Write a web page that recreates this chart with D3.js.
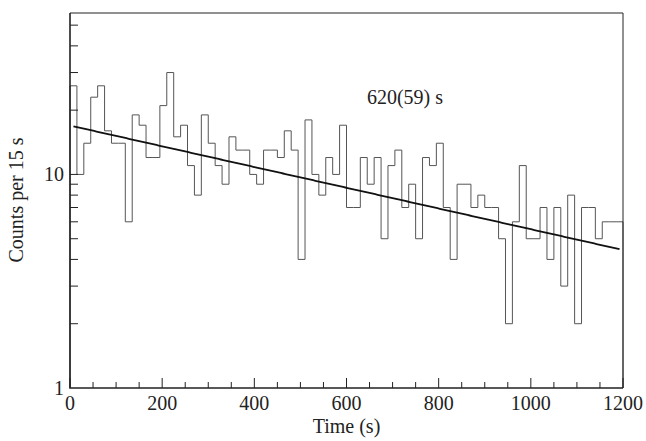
<!DOCTYPE html>
<html><head><meta charset="utf-8">
<script src="https://cdn.jsdelivr.net/npm/d3@7"></script>
<style>body{margin:0;background:#fff}</style></head>
<body><svg id="c" width="646" height="441"></svg>
<script>
const binWidth = 15;
const counts = [26,10,14,23,26,16,14,14,6,19,17,12,12,21,30,15,17,11,8,19,
14,11,9,15,13,13,10,9,13,13,12,16,13,4,18,10,8,12,10,17,
7,7,12,9,12,5,11,13,7,9,5,12,11,14,7,4,9,9,7,8,
7,7,5,2,6,11,5,5,7,4,7,3,8,2,7,7,5,6,6,6];
const halfLife = 620, A0 = 16.94;
const xTicks = [0,200,400,600,800,1000,1200];
const yTicks = [1,10];

const svg = d3.select("#c");
const L=70, R=623, T=13, B=388;
const x = d3.scaleLinear().domain([0,1200]).range([L,R]);
const y = d3.scaleLog().domain([1,57]).range([B,T]);
const font = "'Liberation Serif', 'Times New Roman', serif";
const fs = 20;

const pts = [[0,1]];
counts.forEach((c,i)=>{pts.push([i*binWidth,c]);pts.push([(i+1)*binWidth,c]);});
pts.push([counts.length*binWidth,1]);
svg.append("path").attr("d",d3.line().x(d=>x(d[0])).y(d=>y(d[1]))(pts))
  .attr("fill","none").attr("stroke","#555").attr("stroke-width",1);

const tau = halfLife/Math.LN2;
const fit = d3.range(7.5,1193,5).map(t=>[t,A0*Math.exp(-t/tau)]);
svg.append("path").attr("d",d3.line().x(d=>x(d[0])).y(d=>y(d[1]))(fit))
  .attr("fill","none").attr("stroke","#111").attr("stroke-width",1.8);

svg.append("path").attr("d",`M${L},${T}H${R}V${B}`).attr("fill","none").attr("stroke","#222").attr("stroke-width",1);
svg.append("path").attr("d",`M${L},${T}V${B}H${R}`).attr("fill","none").attr("stroke","#222").attr("stroke-width",1.6);

d3.range(0,1201,50).forEach(v=>{
  const len = v%200===0?10:6;
  svg.append("line").attr("x1",x(v)).attr("x2",x(v)).attr("y1",B).attr("y2",B-len).attr("stroke","#222");
});
xTicks.forEach(v=>svg.append("text").attr("x",x(v)).attr("y",B+22).attr("text-anchor","middle")
  .attr("font-family",font).attr("font-size",fs).attr("fill","#222").text(v));
[2,3,4,5,6,7,8,9,10,20,30,40,50].forEach(v=>{
  svg.append("line").attr("x1",L).attr("x2",L+8).attr("y1",y(v)).attr("y2",y(v)).attr("stroke","#222");
});
yTicks.forEach(v=>svg.append("text").attr("x",L-6).attr("y",y(v)+7).attr("text-anchor","end")
  .attr("font-family",font).attr("font-size",fs).attr("fill","#222").text(v));

svg.append("text").attr("x",(L+R)/2).attr("y",433).attr("text-anchor","middle")
  .attr("font-family",font).attr("font-size",fs).attr("fill","#222").text("Time (s)");
svg.append("text").attr("transform","translate(23,200) rotate(-90)").attr("text-anchor","middle")
  .attr("font-family",font).attr("font-size",fs).attr("fill","#222").text("Counts per 15 s");
svg.append("text").attr("x",405).attr("y",104).attr("text-anchor","middle")
  .attr("font-family",font).attr("font-size",fs).attr("fill","#222").text("620(59) s");
</script></body></html>
